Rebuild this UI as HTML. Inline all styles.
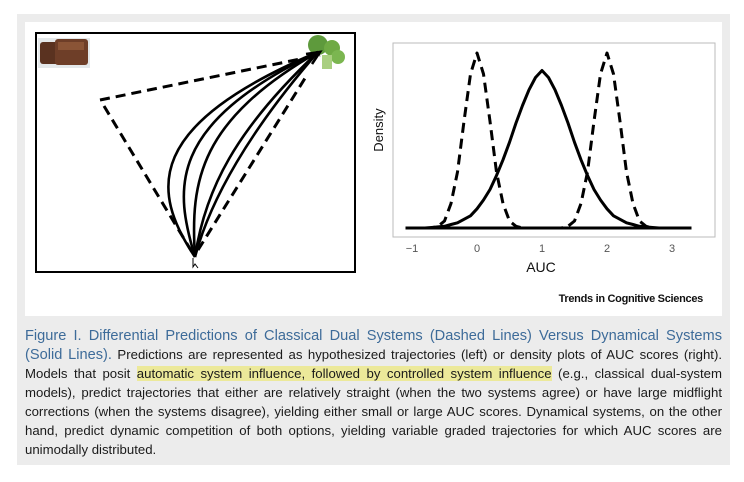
<!DOCTYPE html>
<html><head><meta charset="utf-8">
<style>
html,body{margin:0;padding:0;background:#fff;width:744px;height:482px;overflow:hidden}
#outer{position:absolute;left:17px;top:14px;width:713px;height:451px;background:#ececec}
#panel{position:absolute;left:25px;top:22px;width:697px;height:294px;background:#fff}
#caption{position:absolute;left:25px;top:326px;width:697px;font-family:"Liberation Sans",sans-serif;font-size:13.2px;color:#1a1a1a}
.ln{height:19px;line-height:19px;white-space:nowrap;text-align:justify;text-align-last:justify;overflow:hidden}
.last{text-align-last:left}
.t{color:#3d6b99;font-size:14.6px}
.hl{background:#ece99a}
svg{position:absolute;left:0;top:0}
</style></head><body>
<div id="outer"></div>
<div id="panel"></div>
<svg width="744" height="482">
 <g>
  <rect x="36" y="33" width="319" height="239" fill="none" stroke="#000" stroke-width="2"/>
  <g>
   <rect x="38" y="38" width="52" height="30" fill="#e4e8ea"/>
   <rect x="40" y="42" width="20" height="22" fill="#5a3220" rx="3"/>
   <rect x="55" y="39" width="33" height="26" fill="#6e3e28" rx="3"/>
   <rect x="58" y="42" width="26" height="8" fill="#8a5436"/>
  </g>
  <g>
   <circle cx="318" cy="45" r="10" fill="#5e9a3c"/>
   <circle cx="332" cy="48" r="8" fill="#6faa44"/>
   <circle cx="338" cy="57" r="7" fill="#7bb650"/>
   <rect x="322" y="55" width="10" height="14" fill="#a9cf80"/>
  </g>
  <g fill="none" stroke="#000" stroke-width="3" stroke-dasharray="10 6">
   <path d="M100,100 L320,55"/>
   <path d="M104,106 L192,252"/>
   <path d="M198,250 L307,75"/>
  </g>
  <g fill="none" stroke="#000" stroke-width="2.6">
   <path d="M195,257 C150,190 145,125 318,52"/>
   <path d="M195,257 C175,190 165,125 318,52"/>
   <path d="M195,257 C190,180 200,120 318,52"/>
   <path d="M195,257 C205,190 235,130 318,52"/>
   <path d="M195,257 C210,200 250,130 318,52"/>
   <path d="M306,54 L320,52 L312,64" />
  </g>
  <path d="M193,258 l0,9 l2,-3 l3,4" fill="none" stroke="#000" stroke-width="1"/>
 </g>
 <g id="chart">
  <rect x="393" y="43" width="322" height="194" fill="none" stroke="#bbb" stroke-width="1"/>
  <text x="383" y="130" transform="rotate(-90 383 130)" text-anchor="middle" font-family="Liberation Sans, sans-serif" font-size="13" fill="#111">Density</text>
  <text x="541" y="272" text-anchor="middle" font-family="Liberation Sans, sans-serif" font-size="14" fill="#111">AUC</text>
  <text x="703" y="302" text-anchor="end" font-family="Liberation Sans, sans-serif" font-size="11" font-weight="bold" letter-spacing="-0.3" fill="#111">Trends in Cognitive Sciences</text>
 </g>
</svg>
<div id="caption">
 <div class="ln"><span class="t">Figure I. Differential Predictions of Classical Dual Systems (Dashed Lines) Versus Dynamical Systems</span></div>
 <div class="ln"><span class="t">(Solid Lines).</span> Predictions are represented as hypothesized trajectories (left) or density plots of AUC scores (right).</div>
 <div class="ln">Models that posit <span class="hl">automatic system influence, followed by controlled system influence</span> (e.g., classical dual-system</div>
 <div class="ln">models), predict trajectories that either are relatively straight (when the two systems agree) or have large midflight</div>
 <div class="ln">corrections (when the systems disagree), yielding either small or large AUC scores. Dynamical systems, on the other</div>
 <div class="ln">hand, predict dynamic competition of both options, yielding variable graded trajectories for which AUC scores are</div>
 <div class="ln last">unimodally distributed.</div>
</div>
<script>
const xValues = [-0.8,-0.7,-0.6,-0.5,-0.4,-0.3,-0.2,-0.1,0,0.1,0.2,0.3,0.4,0.5,0.6,0.7,0.8,0.9,1.0,1.1,1.2,1.3,1.4,1.5,1.6,1.7,1.8,1.9,2.0,2.1,2.2,2.3,2.4,2.5,2.6,2.7,2.8];
const dualLow = [0,0,0.01,0.04,0.14,0.32,0.61,0.88,1,0.88,0.61,0.32,0.14,0.04,0.01,0,0,0,0,0,0,0,0,0,0,0,0,0,0,0,0,0,0,0,0,0,0];
const dualHigh = [0,0,0,0,0,0,0,0,0,0,0,0,0,0,0,0,0,0,0,0,0,0,0.01,0.04,0.14,0.32,0.61,0.88,1,0.88,0.61,0.32,0.14,0.04,0.01,0,0];
const dynamical = [0,0.003,0.006,0.01,0.02,0.03,0.05,0.07,0.11,0.16,0.22,0.3,0.39,0.49,0.6,0.7,0.79,0.86,0.9,0.86,0.79,0.7,0.6,0.49,0.39,0.3,0.22,0.16,0.11,0.07,0.05,0.03,0.02,0.01,0.006,0.003,0];
const xTicks = [-1,0,1,2,3];
const xTickLabels = ['\u22121','0','1','2','3'];
const baselineRange = [-1.1,3.3];

const NS='http://www.w3.org/2000/svg';
const chart=document.getElementById('chart');
const xs=v=>477+v*65;
const ys=v=>228-v*175;
function mk(tag,attrs){const e=document.createElementNS(NS,tag);for(const k in attrs)e.setAttribute(k,attrs[k]);chart.appendChild(e);return e;}
xTicks.forEach((t,i)=>{
  const e=mk('text',{x:xs(t),y:252,'text-anchor':'middle','font-family':'Liberation Sans, sans-serif','font-size':'11',fill:'#555'});
  e.textContent=xTickLabels[i];
  
  
});
const base=mk('line',{x1:xs(baselineRange[0]),x2:xs(baselineRange[1]),y1:ys(0),y2:ys(0),stroke:'#000','stroke-width':3});


function series(vals,dashed){
  const d=vals.map((v,i)=>(i?'L':'M')+xs(xValues[i]).toFixed(1)+','+ys(v).toFixed(1)).join(' ');
  const p=mk('path',{d:d,fill:'none',stroke:'#000','stroke-width':3,'stroke-linejoin':'round'});
  if(dashed)p.setAttribute('stroke-dasharray','10 6');
  return p;
}
const s1=series(dynamical,false);


const s2=series(dualLow,true);


const s3=series(dualHigh,true);


</script>
</body></html>
